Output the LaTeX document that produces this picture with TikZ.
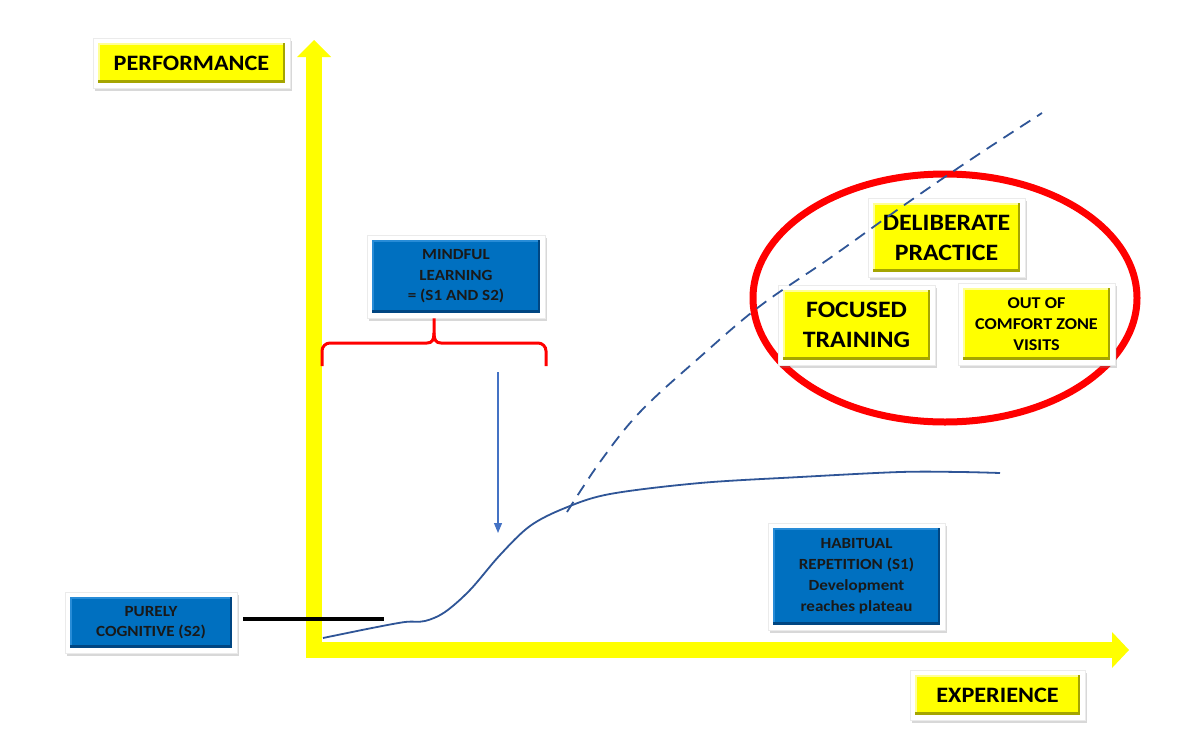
\documentclass[tikz,border=0pt]{standalone}
\usepackage{fontspec}
\setmainfont{Carlito}[FakeStretch=1.1]
\usetikzlibrary{shadows,arrows.meta}
\definecolor{ybox}{RGB}{255,255,0}
\definecolor{ydark}{RGB}{165,165,0}
\definecolor{ylight}{RGB}{255,255,150}
\definecolor{bbox}{RGB}{0,112,192}
\definecolor{bdark}{RGB}{0,70,130}
\definecolor{blight}{RGB}{40,140,215}
\definecolor{curveblue}{RGB}{47,85,151}
\definecolor{arrowblue}{RGB}{68,114,196}
\definecolor{axisyellow}{RGB}{255,255,0}
\newcommand\mybevel[3]{%
  \fill[#2] ([shift={(5pt,5pt)}]path picture bounding box.south west) rectangle ([shift={(-5pt,-5pt)}]path picture bounding box.north east);
  \fill[#3] ([shift={(5pt,8pt)}]path picture bounding box.south west) rectangle ([shift={(-7pt,-5pt)}]path picture bounding box.north east);
  \fill[#1] ([shift={(6.5pt,8pt)}]path picture bounding box.south west) rectangle ([shift={(-7pt,-6.5pt)}]path picture bounding box.north east);
}
\tikzset{
  framebox/.style={rectangle, fill=white, draw=black!8, line width=0.6pt, inner sep=0pt, align=center,
    drop shadow={shadow xshift=1.5pt, shadow yshift=-2.5pt, opacity=0.3}},
  ylab/.style={framebox, path picture={\mybevel{ybox}{ydark}{ylight}}, text=black},
  blab/.style={framebox, path picture={\mybevel{bbox}{bdark}{blight}}, text=black!90},
  axis/.style={axisyellow, line width=16pt},
  bracket/.style={draw=red, line width=3pt},
  pointer/.style={draw=arrowblue, line width=1.2pt, -{Triangle[width=8pt,length=10pt]}},
  growth/.style={draw=curveblue, line width=1.8pt},
  potential/.style={draw=curveblue, line width=1.8pt, dash pattern=on 12pt off 8pt},
  zone/.style={draw=red, line width=7pt},
}
\begin{document}
\begin{tikzpicture}[x=1pt,y=-1pt]
\useasboundingbox (0,0) rectangle (1189,753);
\fill[white] (0,0) rectangle (1189,753);

% axes
\coordinate (origin) at (314,650);
\coordinate (ytop) at (314,57);
\coordinate (xend) at (1112,650);
\draw[axis] (314,658) -- (ytop);
\fill[axisyellow] (297,57) -- (331,57) -- (314,40) -- cycle;
\draw[axis] (306,650) -- (xend);
\fill[axisyellow] (1112,632) -- (1112,668) -- (1129,650) -- cycle;

% red ellipse
\draw[zone] (945,298) ellipse [x radius=192pt, y radius=124pt];

% growth curve
\draw[growth] plot[smooth, tension=0.55] coordinates {(323,638) (372,628) (405,622) (425,621) (445,612) (470,590) (500,555) (530,526) (565,508) (610,494) (700,483) (800,477) (900,472) (960,472) (1000,473)};

% boxes
\node[ylab, minimum width=197pt, minimum height=50pt, font=\fontsize{22}{26}\selectfont\bfseries] (perf) at (191.5,63) {PERFORMANCE};
\node[ylab, minimum width=175pt, minimum height=50pt, font=\fontsize{22}{26}\selectfont\bfseries] (exper) at (997.5,695) {EXPERIENCE};
\node[blab, minimum width=178pt, minimum height=83pt, font=\fontsize{15.5}{20.5}\selectfont\bfseries] (mind) at (456,276.5) {MINDFUL\\LEARNING\\= (S1 AND S2)};
\node[blab, minimum width=172pt, minimum height=61pt, font=\fontsize{15.5}{20}\selectfont\bfseries] (pure) at (151,622.5) {PURELY\\COGNITIVE (S2)};
\node[blab, minimum width=177pt, minimum height=107pt, font=\fontsize{15.5}{21}\selectfont\bfseries] (habit) at (856.5,576.5) {HABITUAL\\REPETITION (S1)\\Development\\reaches plateau};
\node[ylab, minimum width=157pt, minimum height=79pt, font=\fontsize{23.5}{30}\selectfont\bfseries] (delib) at (946.5,237.5) {DELIBERATE\\PRACTICE};
\node[ylab, minimum width=157pt, minimum height=80pt, font=\fontsize{23.5}{30}\selectfont\bfseries] (focus) at (856.5,325) {FOCUSED\\TRAINING};
\node[ylab, minimum width=157pt, minimum height=82pt, font=\fontsize{16.5}{21}\selectfont\bfseries] (comfort) at (1036.5,324) {OUT OF\\COMFORT ZONE\\VISITS};

% black pointer line from purely cognitive
\coordinate (pureend) at (384,619);
\draw[black, line width=3.5pt] ([xshift=6pt]pure.east |- pureend) -- (pureend);

% bracket under mindful learning
\coordinate (bl) at (322,366);
\coordinate (br) at (546,366);
\coordinate (cusp) at (434,333);
\draw[bracket] (bl) [rounded corners=8pt] -- (322,343) [sharp corners] -- (427,343) .. controls (432,343) and (434,340) .. (cusp) -- (cusp |- mind.south);
\draw[bracket] (br) [rounded corners=8pt] -- (546,343) [sharp corners] -- (441,343) .. controls (436,343) and (434,340) .. (cusp);

% blue pointer arrow
\coordinate (arrtop) at (498,372);
\coordinate (arrtip) at (498,533);
\draw[pointer] (arrtop) -- (arrtip);

% dashed potential curve
\draw[potential] plot[smooth, tension=0.6] coordinates {(567,512) (600,462) (640,412) (700,357) (760,306) (830,258) (900,208) (970,160) (1042,113)};
\end{tikzpicture}
\end{document}
